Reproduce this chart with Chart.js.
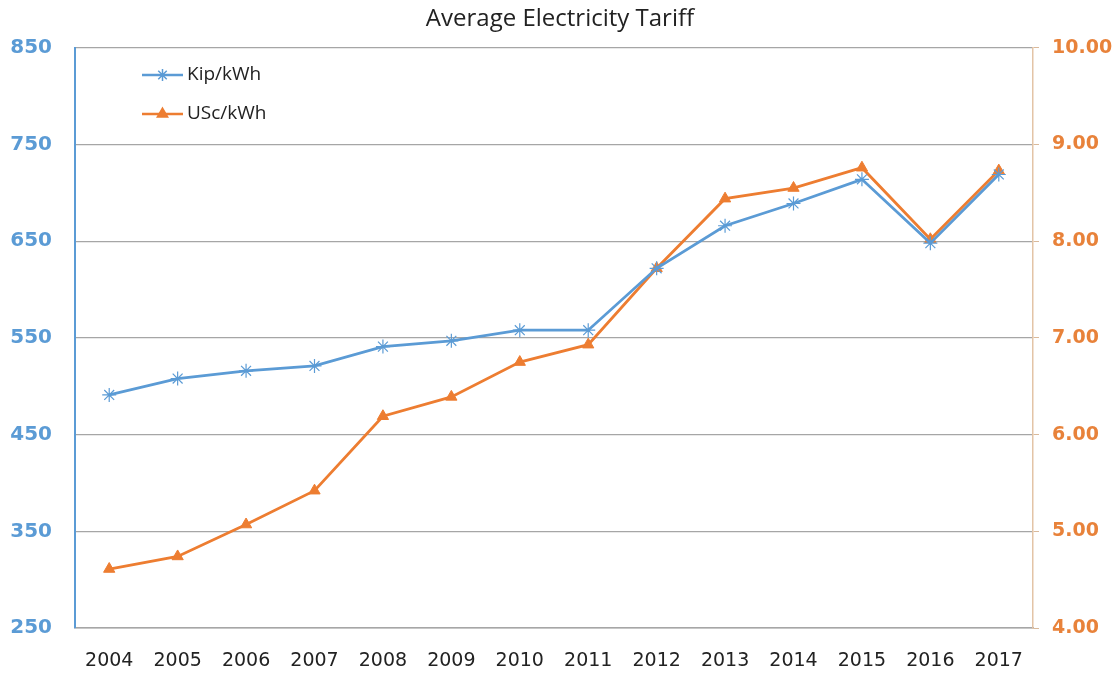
<!DOCTYPE html>
<html>
<head>
<meta charset="utf-8">
<script src="https://cdn.jsdelivr.net/npm/chart.js@4/dist/chart.umd.min.js"></script>
<style>
  html, body { margin: 0; padding: 0; background: #fff; }
  #wrap { width: 1120px; height: 674px; }
</style>
</head>
<body>
<div id="wrap"><canvas id="tariffChart" width="1120" height="674"></canvas></div>
<script>
// Data
const years = ['2004', '2005', '2006', '2007', '2008', '2009', '2010',
  '2011', '2012', '2013', '2014', '2015', '2016', '2017'];
const kipPerKwh = [491, 508, 516, 521, 541, 547, 558, 558, 622, 666, 689, 714, 648, 719];
const uscPerKwh = [4.61, 4.74, 5.07, 5.42, 6.19, 6.39, 6.75, 6.93, 7.72, 8.44, 8.55, 8.76, 8.02, 8.73];
const leftTicks = [250, 350, 450, 550, 650, 750, 850];
const rightTicks = [4, 5, 6, 7, 8, 9, 10];

const COLORS = {
  blue: '#5B9BD5',
  orange: '#ED7D31',
  leftLabel: '#5B9BD5',
  rightLabel: '#E8823A',
  grid: '#A6A6A6',
};

// legend drawn inside the plot, top-left
const insideLegend = {
  id: 'insideLegend',
  afterDraw(chart) {
    const ctx = chart.ctx;
    const items = [
      { text: 'Kip/kWh', ds: chart.data.datasets[0], y: 75 },
      { text: 'USc/kWh', ds: chart.data.datasets[1], y: 114 },
    ];
    ctx.save();
    items.forEach((it) => {
      ctx.strokeStyle = it.ds.borderColor;
      ctx.lineWidth = 2.5;
      ctx.beginPath();
      ctx.moveTo(142, it.y);
      ctx.lineTo(183, it.y);
      ctx.stroke();
      ctx.fillStyle = it.ds.backgroundColor;
      ctx.strokeStyle = it.ds.borderColor;
      ctx.lineWidth = 1.5;
      Chart.helpers.drawPoint(ctx, {
        pointStyle: it.ds.pointStyle,
        radius: 6,
        borderWidth: 1.5,
        rotation: 0,
      }, 162.5, it.y);
      ctx.fillStyle = '#222';
      ctx.font = '19px "Open Sans"';
      ctx.textBaseline = 'middle';
      ctx.fillText(it.text, 187, it.y);
    });
    ctx.restore();
  },
};

const config = {
  type: 'line',
  data: {
    labels: years,
    datasets: [
      {
        label: 'Kip/kWh',
        data: kipPerKwh,
        yAxisID: 'yLeft',
        borderColor: COLORS.blue,
        backgroundColor: COLORS.blue,
        borderWidth: 2.8,
        pointStyle: 'star',
        pointRadius: 7,
        pointBorderWidth: 1.2,
        tension: 0,
      },
      {
        label: 'USc/kWh',
        data: uscPerKwh,
        yAxisID: 'yRight',
        borderColor: COLORS.orange,
        backgroundColor: COLORS.orange,
        borderWidth: 2.8,
        pointStyle: 'triangle',
        pointRadius: 6.5,
        pointBorderWidth: 1,
        tension: 0,
      },
    ],
  },
  options: {
    responsive: false,
    animation: false,
    layout: { padding: { left: 0, right: 0, top: 0, bottom: 0 } },
    plugins: {
      legend: { display: false },
      tooltip: { enabled: false },
      title: {
        display: true,
        text: 'Average Electricity Tariff',
        color: '#222',
        font: { family: '"Open Sans"', size: 24, weight: 'normal' },
        padding: { top: 5, bottom: 14 },
      },
    },
    scales: {
      x: {
        offset: true,
        grid: { display: false, drawTicks: false },
        border: { color: COLORS.grid, width: 1.5 },
        ticks: {
          color: '#222',
          font: { family: '"DejaVu Sans"', size: 19 },
          padding: 22,
          maxRotation: 0,
        },
        afterFit(scale) { scale.height = 46; },
      },
      yLeft: {
        position: 'left',
        min: 250,
        max: 850,
        afterBuildTicks(scale) { scale.ticks = leftTicks.map((v) => ({ value: v })); },
        grid: { color: COLORS.grid, lineWidth: 1.2, drawTicks: false },
        border: { color: COLORS.blue, width: 2 },
        ticks: {
          color: COLORS.leftLabel,
          font: { family: '"DejaVu Sans"', size: 20, weight: 'bold' },
          padding: 23,
        },
        afterFit(scale) { scale.width = 75; },
      },
      yRight: {
        position: 'right',
        min: 4,
        max: 10,
        afterBuildTicks(scale) { scale.ticks = rightTicks.map((v) => ({ value: v })); },
        grid: { drawOnChartArea: false, color: '#D9B99B', tickLength: 6 },
        border: { color: '#E3C4A6', width: 1.5 },
        ticks: {
          color: COLORS.rightLabel,
          font: { family: '"DejaVu Sans"', size: 19, weight: 'bold' },
          padding: 13,
          callback: (v) => Number(v).toFixed(2),
        },
        afterFit(scale) { scale.width = 87; },
      },
    },
  },
  plugins: [insideLegend],
};

const tariffChart = new Chart(document.getElementById('tariffChart'), config);
</script>
</body>
</html>
